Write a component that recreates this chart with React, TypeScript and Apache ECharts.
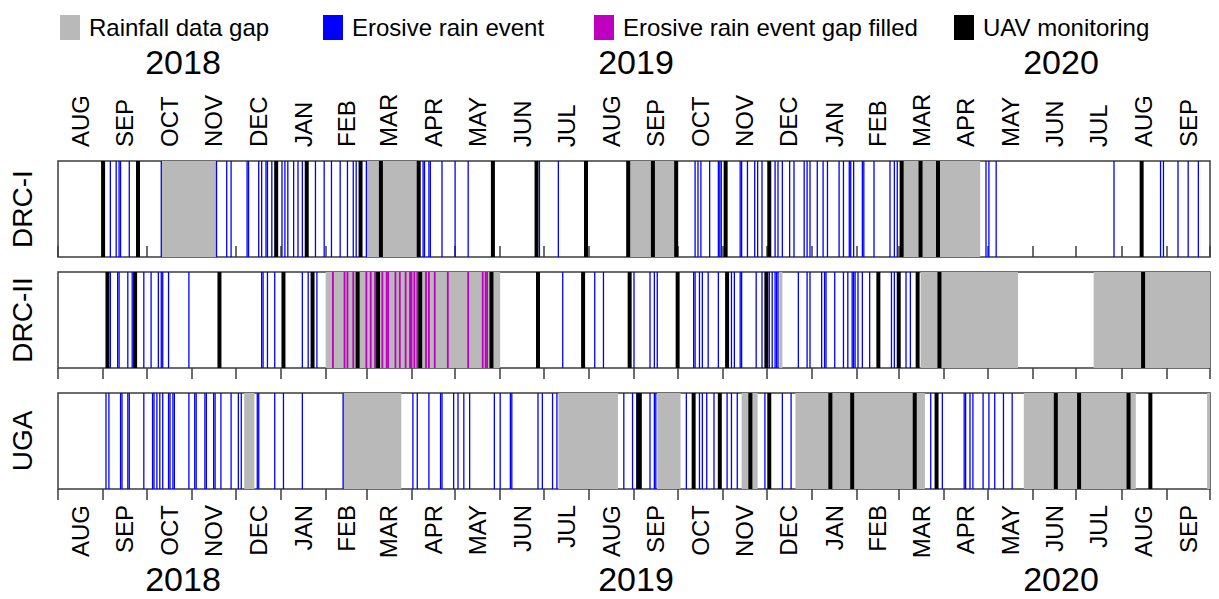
import { useEffect, useRef } from 'react';
import * as echarts from 'echarts';

// ---------- labels ----------
const MONTH_NAMES = ['JAN', 'FEB', 'MAR', 'APR', 'MAY', 'JUN', 'JUL', 'AUG', 'SEP', 'OCT', 'NOV', 'DEC'];
const AXIS_START = '2018-08-01';
const AXIS_END = '2020-10-01';
const SITES = ['DRC-I', 'DRC-II', 'UGA'];
const YEARS = ['2018', '2019', '2020'];
const LEGEND_NAMES = ['Rainfall data gap', 'Erosive rain event', 'Erosive rain event gap filled', 'UAV monitoring'];

// ---------- DRC-I ----------
const drc1Gaps = [
  ['2018-10-11', '2018-11-18'],
  ['2019-03-01', '2019-04-05'],
  ['2019-08-28', '2019-09-30'],
  ['2020-03-03', '2020-04-26'],
];
const drc1Rain = [
  '2018-09-06', '2018-09-10', '2018-09-12', '2018-09-13', '2018-09-19', '2018-10-11', '2018-11-18', '2018-11-25',
  '2018-11-28', '2018-12-09', '2018-12-10', '2018-12-17', '2018-12-19', '2018-12-22', '2018-12-23', '2018-12-26',
  '2019-01-02', '2019-01-04', '2019-01-06', '2019-01-10', '2019-01-13', '2019-01-16', '2019-01-25', '2019-01-31',
  '2019-02-05', '2019-02-11', '2019-02-16', '2019-02-20', '2019-02-22', '2019-03-01', '2019-04-09', '2019-04-10',
  '2019-04-13', '2019-04-14', '2019-04-22', '2019-05-01', '2019-05-10', '2019-06-28', '2019-07-11', '2019-10-13',
  '2019-10-15', '2019-10-17', '2019-10-23', '2019-10-29', '2019-10-30', '2019-10-31', '2019-11-13', '2019-11-14',
  '2019-11-18', '2019-11-23', '2019-11-25', '2019-11-28', '2019-12-07', '2019-12-09', '2019-12-12', '2019-12-17',
  '2019-12-20', '2019-12-27', '2019-12-29', '2019-12-31', '2020-01-05', '2020-01-09', '2020-01-12', '2020-01-20',
  '2020-01-23', '2020-01-27', '2020-01-28', '2020-01-30', '2020-02-05', '2020-02-06', '2020-02-13', '2020-02-24',
  '2020-02-27', '2020-02-29', '2020-04-30', '2020-05-02', '2020-05-07', '2020-07-27', '2020-08-28', '2020-08-30',
  '2020-09-09', '2020-09-16', '2020-09-23',
];
const drc1Filled: string[] = [];
const drc1Uav = [
  '2018-09-01', '2018-09-25', '2018-12-29', '2019-01-19', '2019-02-25', '2019-03-11', '2019-04-06', '2019-05-27',
  '2019-06-26', '2019-07-30', '2019-08-28', '2019-09-14', '2019-09-30', '2019-11-03', '2019-12-03', '2020-03-03',
  '2020-03-16', '2020-03-28', '2020-08-15',
];

// ---------- DRC-II ----------
const drc2Gaps = [
  ['2019-02-01', '2019-06-01'],
  ['2019-12-10', '2019-12-12'],
  ['2020-03-16', '2020-05-22'],
  ['2020-07-13', '2020-10-01'],
];
const drc2Rain = [
  '2018-09-06', '2018-09-11', '2018-09-12', '2018-09-18', '2018-09-21', '2018-09-29', '2018-10-04', '2018-10-09',
  '2018-10-11', '2018-10-12', '2018-10-16', '2018-10-30', '2018-12-19', '2018-12-20', '2018-12-23', '2018-12-28',
  '2019-01-16', '2019-01-20', '2019-01-26', '2019-07-14', '2019-08-05', '2019-08-11', '2019-09-01', '2019-09-12',
  '2019-09-15', '2019-09-17', '2019-10-12', '2019-10-13', '2019-10-16', '2019-10-18', '2019-10-22', '2019-10-29',
  '2019-11-07', '2019-11-09', '2019-11-13', '2019-11-14', '2019-11-24', '2019-11-28', '2019-12-03', '2019-12-05',
  '2019-12-07', '2019-12-08', '2019-12-09', '2019-12-23', '2019-12-29', '2019-12-31', '2020-01-08', '2020-01-10',
  '2020-01-11', '2020-01-17', '2020-01-23', '2020-01-26', '2020-01-29', '2020-01-30', '2020-01-31', '2020-02-02',
  '2020-02-05', '2020-02-10', '2020-02-25', '2020-02-27', '2020-03-06', '2020-03-09',
];
const drc2Filled = [
  '2019-02-06', '2019-02-14', '2019-02-16', '2019-02-20', '2019-03-01', '2019-03-04', '2019-03-07', '2019-03-12',
  '2019-03-15', '2019-03-16', '2019-03-21', '2019-03-24', '2019-03-28', '2019-03-31', '2019-04-01', '2019-04-03',
  '2019-04-05', '2019-04-11', '2019-04-13', '2019-04-17', '2019-04-26', '2019-05-10', '2019-05-20', '2019-05-22',
  '2019-05-23',
];
const drc2Uav = [
  '2018-09-04', '2018-09-23', '2018-11-20', '2019-01-03', '2019-01-23', '2019-02-23', '2019-03-09', '2019-04-07',
  '2019-05-26', '2019-06-27', '2019-07-28', '2019-08-29', '2019-10-01', '2019-11-04', '2019-12-01', '2020-02-16',
  '2020-03-01', '2020-03-14', '2020-03-29', '2020-08-16',
];

// ---------- UGA ----------
const ugaGaps = [
  ['2018-12-07', '2018-12-14'],
  ['2019-02-13', '2019-03-25'],
  ['2019-07-11', '2019-08-21'],
  ['2019-09-17', '2019-10-03'],
  ['2019-11-14', '2019-11-25'],
  ['2019-12-21', '2020-03-19'],
  ['2020-05-26', '2020-08-11'],
  ['2020-09-29', '2020-10-01'],
];
const ugaRain = [
  '2018-09-03', '2018-09-05', '2018-09-13', '2018-09-14', '2018-09-18', '2018-09-19', '2018-09-29', '2018-10-05',
  '2018-10-06', '2018-10-08', '2018-10-10', '2018-10-12', '2018-10-16', '2018-10-17', '2018-10-19', '2018-10-20',
  '2018-10-30', '2018-11-03', '2018-11-04', '2018-11-10', '2018-11-11', '2018-11-16', '2018-11-17', '2018-11-21',
  '2018-11-28', '2018-12-03', '2018-12-05', '2018-12-16', '2018-12-17', '2018-12-28', '2019-01-03', '2019-01-16',
  '2019-02-13', '2019-04-02', '2019-04-05', '2019-04-13', '2019-04-21', '2019-04-22', '2019-04-30', '2019-05-03',
  '2019-05-07', '2019-05-11', '2019-05-28', '2019-06-01', '2019-06-08', '2019-06-09', '2019-06-27', '2019-06-30',
  '2019-07-07', '2019-07-10', '2019-08-25', '2019-08-31', '2019-09-03', '2019-09-12', '2019-09-15', '2019-09-16',
  '2019-10-07', '2019-10-16', '2019-10-18', '2019-10-21', '2019-10-26', '2019-11-04', '2019-11-07', '2019-11-11',
  '2019-11-30', '2019-12-12', '2019-12-18', '2020-03-23', '2020-03-31', '2020-04-15', '2020-04-16', '2020-04-19',
  '2020-04-21', '2020-04-28', '2020-05-02', '2020-05-06', '2020-05-12', '2020-05-18',
];
const ugaFilled: string[] = [];
const ugaUav = [
  '2019-09-04', '2019-09-05', '2019-10-12', '2019-10-30', '2019-11-20', '2019-12-03', '2020-01-14', '2020-01-29',
  '2020-03-12', '2020-03-27', '2020-06-17', '2020-07-03', '2020-08-06', '2020-08-21',
];

const PANELS = [
  { gaps: drc1Gaps, rain: drc1Rain, filled: drc1Filled, uav: drc1Uav },
  { gaps: drc2Gaps, rain: drc2Rain, filled: drc2Filled, uav: drc2Uav },
  { gaps: ugaGaps, rain: ugaRain, filled: ugaFilled, uav: ugaUav },
];

// ---------- helpers ----------
const t = (s: string) => {
  const [y, m, d] = s.split('-').map(Number);
  return Date.UTC(y, m - 1, d);
};

const FONT = "'Liberation Sans', Arial, sans-serif";
const GRAY = '#b9b9b9';
const BLUE = '#0000ff';
const MAGENTA = '#c000c0';
const BLACK = '#000000';
const FRAME = '#3c3c3c';

function monthStarts(): number[] {
  const [y0, m0] = AXIS_START.split('-').map(Number);
  const end = t(AXIS_END);
  const out: number[] = [];
  for (let i = 0; ; i++) {
    const v = Date.UTC(y0, m0 - 1 + i, 1);
    if (v > end) break;
    out.push(v);
  }
  return out;
}

function vlineSeries(name: string, dates: string[], idx: number, color: string, width: number) {
  return {
    type: 'custom',
    name,
    xAxisIndex: idx,
    yAxisIndex: idx,
    silent: true,
    itemStyle: { color },
    encode: { x: 0 },
    data: dates.map((d) => [t(d)]),
    renderItem: (params: any, api: any) => {
      const x = api.coord([api.value(0), 0])[0];
      const cs = params.coordSys;
      return {
        type: 'rect',
        shape: { x: x - width / 2, y: cs.y, width, height: cs.height },
        style: { fill: color },
      };
    },
  };
}

function gapSeries(name: string, gaps: string[][], idx: number) {
  return {
    type: 'custom',
    name,
    xAxisIndex: idx,
    yAxisIndex: idx,
    silent: true,
    itemStyle: { color: GRAY },
    encode: { x: [0, 1] },
    data: gaps.map(([a, b]) => [t(a), t(b)]),
    renderItem: (params: any, api: any) => {
      const x0 = api.coord([api.value(0), 0])[0];
      const x1 = api.coord([api.value(1), 0])[0];
      const cs = params.coordSys;
      return {
        type: 'rect',
        shape: { x: x0, y: cs.y, width: x1 - x0, height: cs.height },
        style: { fill: GRAY },
      };
    },
  };
}

export default function App() {
  const ref = useRef<HTMLDivElement>(null);

  useEffect(() => {
    if (!ref.current) return;
    const chart = echarts.init(ref.current, undefined, { renderer: 'svg' });

    const ticks = monthStarts();
    const mids = ticks.slice(0, -1).map((v, i) => (v + ticks[i + 1]) / 2);
    const fmt = (v: number) => MONTH_NAMES[new Date(v).getUTCMonth()];

    const gridTops = [161, 272, 393];
    const grids = gridTops.map((top) => ({
      left: 56,
      right: 9,
      top,
      height: 96,
      show: true,
      borderColor: FRAME,
      borderWidth: 1.5,
      backgroundColor: 'transparent',
    }));

    const xAxes = gridTops.map((_, i) => ({
      type: 'value',
      gridIndex: i,
      min: t(AXIS_START),
      max: t(AXIS_END),
      position: i === 0 ? 'top' : 'bottom',
      axisLine: { show: false },
      splitLine: { show: false },
      axisTick: {
        show: true,
        customValues: ticks,
        length: 11,
        lineStyle: { color: FRAME, width: 1.5 },
      },
      axisLabel: {
        show: i !== 1,
        customValues: mids,
        rotate: 90,
        margin: i === 0 ? 14 : 16,
        fontSize: 24,
        fontFamily: FONT,
        color: '#000',
        formatter: fmt,
      },
    }));

    const yAxes = SITES.map((site, i) => ({
      type: 'value',
      gridIndex: i,
      min: 0,
      max: 1,
      axisLine: { show: false },
      axisTick: { show: false },
      axisLabel: { show: false },
      splitLine: { show: false },
      name: site,
      nameLocation: 'middle',
      nameRotate: 90,
      nameGap: 22,
      nameTextStyle: { fontSize: 28, fontFamily: FONT, color: '#000' },
    }));

    const series: any[] = [];
    PANELS.forEach((p, i) => {
      series.push(gapSeries(LEGEND_NAMES[0], p.gaps, i));
      series.push(vlineSeries(LEGEND_NAMES[1], p.rain, i, BLUE, 1.3));
      series.push(vlineSeries(LEGEND_NAMES[2], p.filled, i, MAGENTA, 1.8));
      series.push(vlineSeries(LEGEND_NAMES[3], p.uav, i, BLACK, 4));
    });

    const legendLefts = [55, 318, 589, 949];
    const legends = LEGEND_NAMES.map((name, i) => ({
      left: legendLefts[i],
      top: 10,
      orient: 'horizontal',
      icon: 'rect',
      itemWidth: 20,
      itemHeight: 25,
      selectedMode: false,
      data: [name],
      textStyle: { fontSize: 24, fontFamily: FONT, color: '#000', padding: [0, 0, 0, 4] },
    }));

    const yearX = [183, 636, 1061];
    const yearText = (y: number) =>
      YEARS.map((yr, i) => ({
        type: 'text',
        x: yearX[i],
        y,
        style: {
          text: yr,
          fontSize: 34,
          fontFamily: FONT,
          fill: '#000',
          align: 'center',
          verticalAlign: 'middle',
        },
      }));

    chart.setOption({
      animation: false,
      backgroundColor: '#ffffff',
      legend: legends,
      grid: grids,
      xAxis: xAxes,
      yAxis: yAxes,
      series,
      graphic: [...yearText(62), ...yearText(579)],
    });

    return () => chart.dispose();
  }, []);

  return (
    <div
      ref={ref}
      style={{ position: 'absolute', left: 0, top: 0, width: 1219, height: 599 }}
    />
  );
}
